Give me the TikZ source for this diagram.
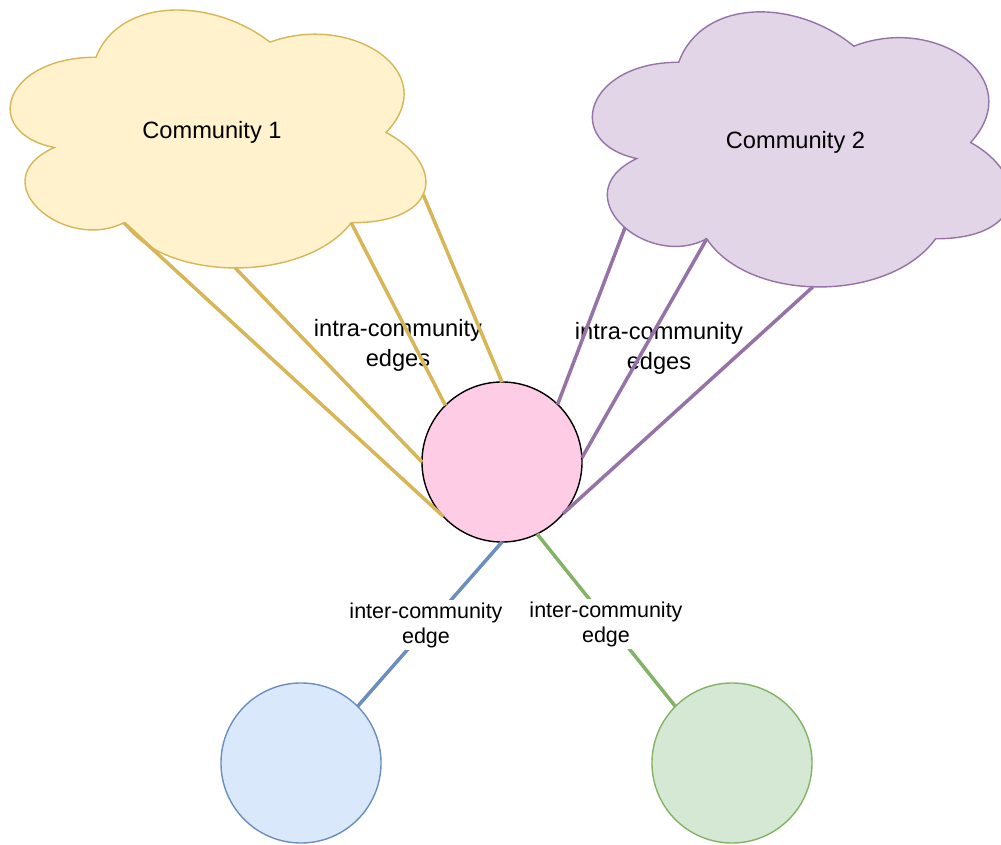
\documentclass[tikz,border=0pt]{standalone}
\usepackage{fontspec}
\setmainfont{Liberation Sans}
\usepackage{tikz}
\definecolor{CYFill}{HTML}{FFF2CC}
\definecolor{CYLine}{HTML}{D6B656}
\definecolor{CPFill}{HTML}{E1D5E7}
\definecolor{CPLine}{HTML}{9673A6}
\definecolor{CKFill}{HTML}{FFCCE6}
\definecolor{CBFill}{HTML}{DAE8FC}
\definecolor{CBLine}{HTML}{6C8EBF}
\definecolor{CGFill}{HTML}{D5E8D4}
\definecolor{CGLine}{HTML}{82B366}
\newcommand{\cloudoutline}{(0.25,0.25) .. controls (0.05,0.25) and (0,0.5) .. (0.16,0.55)
 .. controls (0,0.66) and (0.18,0.9) .. (0.31,0.8)
 .. controls (0.4,1) and (0.7,1) .. (0.8,0.8)
 .. controls (1,0.8) and (1,0.6) .. (0.875,0.5)
 .. controls (1,0.3) and (0.8,0.1) .. (0.625,0.2)
 .. controls (0.5,0.05) and (0.3,0.05) .. (0.25,0.25) -- cycle}

\begin{document}
\begin{tikzpicture}[
 x=0.025cm,y=-0.025cm,
 cloudA/.style={draw=CYLine,fill=CYFill,line width=1pt},
 cloudB/.style={draw=CPLine,fill=CPFill,line width=1pt},
 vertex/.style={circle,inner sep=0pt,outer sep=0pt,minimum size=4cm,line width=1pt},
 edge/.style={line width=2.5pt},
 label/.style={font=\fontsize{16.8}{21.3}\selectfont,align=center,inner sep=1pt},
 elabel/.style={font=\fontsize{15.3}{17.8}\selectfont,align=center,fill=white,inner sep=2pt}
]
\useasboundingbox (0,0) rectangle (1001,845);
% community 1
\begin{scope}[shift={(-20,-18)},xscale=464,yscale=301]
 \draw[cloudA] \cloudoutline;
 \node[label] (com1) at (0.5,0.5) {Community 1};
 \coordinate (y1) at (0.31,0.8);
 \coordinate (y2) at (0.55,0.95);
 \coordinate (y3) at (0.8,0.8);
 \coordinate (y4) at (0.955,0.706);
\end{scope}
% community 2
\begin{scope}[shift={(562,-18)},xscale=467,yscale=321]
 \draw[cloudB] \cloudoutline;
 \node[label] (com2) at (0.5,0.5) {Community 2};
 \coordinate (p1) at (0.135,0.765);
 \coordinate (p2) at (0.31,0.8);
 \coordinate (p3) at (0.537,0.95);
\end{scope}
\node[label] (intraA) at (398,345) {intra-community\\edges};
\node[label] (intraB) at (659,348) {intra-community\\edges};
\node[vertex,draw=black,fill=CKFill] (hub) at (502,462) {};
\node[vertex,draw=CBLine,fill=CBFill] (nb) at (301,763) {};
\node[vertex,draw=CGLine,fill=CGFill] (ng) at (732,763) {};
\draw[edge,CYLine] (y1) -- (hub.223);
\draw[edge,CYLine] (y2) -- (hub.180);
\draw[edge,CYLine] (y3) -- (hub.135);
\draw[edge,CYLine] (y4) -- (hub.90);
\draw[edge,CPLine] (p1) -- (hub.46);
\draw[edge,CPLine] (p2) -- (hub.3);
\draw[edge,CPLine] (p3) -- (hub.320);
\draw[edge,CBLine] (hub.270) -- (nb.45);
\draw[edge,CGLine] (hub.296) -- (ng.135);
\node[elabel] (interA) at (426,625) {inter-community\\edge};
\node[elabel] (interB) at (606,624) {inter-community\\edge};
\end{tikzpicture}
\end{document}
